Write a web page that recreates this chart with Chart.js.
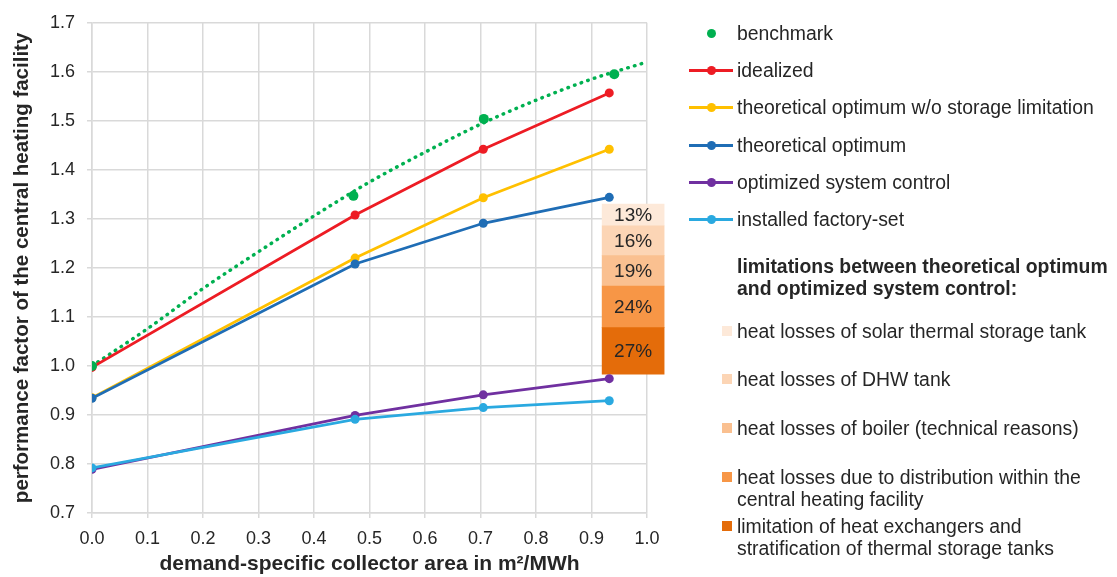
<!DOCTYPE html>
<html>
<head>
<meta charset="utf-8">
<script src="https://cdn.jsdelivr.net/npm/chart.js@4.4.1/dist/chart.umd.min.js"></script>
<style>
  html, body { margin: 0; padding: 0; background: #fff; }
  body { width: 1117px; height: 577px; position: relative; overflow: hidden;
         font-family: "Liberation Sans", Arial, sans-serif; color: #262626; }
  #chartBox { position: absolute; left: 0; top: 0; width: 680px; height: 577px; }
  #legend { position: absolute; left: 0; top: 0; width: 1117px; height: 577px; }
  .lg-text { position: absolute; left: 737px; font-size: 19.4px; line-height: 22.5px; white-space: nowrap; }
  .lg-head { font-weight: bold; }
  .lg-line { position: absolute; left: 689px; width: 44px; height: 3px; }
  .lg-dot { position: absolute; left: 707px; width: 9px; height: 9px; border-radius: 50%; }
  .lg-box { position: absolute; left: 722px; width: 10px; height: 10px; }
</style>
</head>
<body>
<div id="chartBox"><canvas id="pfChart"></canvas></div>
<div id="legend"></div>
<script>
// x positions (demand-specific collector area, m²/MWh)
const xSeries = [0, 0.474, 0.705, 0.932];
const xBenchmark = [0, 0.471, 0.706, 0.941];

const benchmark = [1.0, 1.347, 1.504, 1.595];
const idealized = [0.997, 1.308, 1.442, 1.557];
const theoNoStorage = [0.935, 1.220, 1.343, 1.442];
const theoOptimum = [0.934, 1.208, 1.291, 1.344];
const optimizedCtrl = [0.789, 0.899, 0.941, 0.974];
const factorySet = [0.792, 0.891, 0.915, 0.929];

// dotted benchmark trend
const trendX = [0, 0.1, 0.2, 0.3, 0.4, 0.5, 0.6, 0.7, 0.8, 0.9, 1.0];
const trendY = [1.0, 1.076, 1.158, 1.233, 1.306, 1.375, 1.436, 1.493, 1.542, 1.585, 1.62];

// stacked limitation bar (bottom to top)
const barX = 0.975;
const barBounds = [0.983, 1.078, 1.163, 1.225, 1.286, 1.330];
const barLabels = ['27%', '24%', '19%', '16%', '13%'];
const barNames = [
    'limitation of heat exchangers and\nstratification of thermal storage tanks',
    'heat losses due to distribution within the\ncentral heating facility',
    'heat losses of boiler (technical reasons)',
    'heat losses of DHW tank',
    'heat losses of solar thermal storage tank'
];

const yTicks = [0.7, 0.8, 0.9, 1.0, 1.1, 1.2, 1.3, 1.4, 1.5, 1.6, 1.7];
const xTicks = [0, 0.1, 0.2, 0.3, 0.4, 0.5, 0.6, 0.7, 0.8, 0.9, 1.0];

const FONT = '"Liberation Sans", Arial, sans-serif';
const TEXT = '#262626';
const GRID = '#d9d9d9';

const seriesStyle = [
    { name: 'idealized', data: idealized, color: '#ed1c24', order: 5 },
    { name: 'theoretical optimum w/o storage limitation', data: theoNoStorage, color: '#ffc000', order: 4 },
    { name: 'theoretical optimum', data: theoOptimum, color: '#1f6db5', order: 3 },
    { name: 'optimized system control', data: optimizedCtrl, color: '#7030a0', order: 2 },
    { name: 'installed factory-set', data: factorySet, color: '#2aa9e0', order: 1 }
];
const barColors = ['#e46c0a', '#f79646', '#fac090', '#fcd5b5', '#fde9d9'];

function toPoints(xs, ys) {
    return ys.map((y, i) => ({ x: xs[i], y: y }));
}

const datasets = [];

barLabels.forEach((lbl, i) => {
    datasets.push({
        type: 'bar',
        label: lbl,
        data: [{ x: barX, y: [barBounds[i], barBounds[i + 1]] }],
        backgroundColor: barColors[i],
        borderWidth: 0,
        barThickness: 62,
        grouped: false,
        clip: false,
        order: 10
    });
});

datasets.push({
    label: 'trend',
    data: toPoints(trendX, trendY),
    borderColor: '#00b050',
    borderWidth: 3.5,
    borderDash: [0.5, 6.5],
    borderCapStyle: 'round',
    cubicInterpolationMode: 'monotone',
    pointRadius: 0,
    order: 7
});

seriesStyle.forEach(s => {
    datasets.push({
        label: s.name,
        data: toPoints(xSeries, s.data),
        borderColor: s.color,
        backgroundColor: s.color,
        borderWidth: 2.75,
        pointRadius: 4.5,
        pointBorderWidth: 0,
        pointBackgroundColor: s.color,
        order: s.order
    });
});

datasets.push({
    label: 'benchmark',
    data: toPoints(xBenchmark, benchmark),
    showLine: false,
    pointRadius: 5,
    pointBorderWidth: 0,
    pointBackgroundColor: '#00b050',
    order: 0
});

const barLabelPlugin = {
    id: 'barLabels',
    afterDatasetsDraw(chart) {
        const ctx = chart.ctx;
        ctx.save();
        ctx.font = '19px ' + FONT;
        ctx.fillStyle = TEXT;
        ctx.textAlign = 'center';
        ctx.textBaseline = 'middle';
        chart.data.datasets.forEach((ds, i) => {
            if (ds.type !== 'bar') return;
            const bar = chart.getDatasetMeta(i).data[0];
            ctx.fillText(ds.label, bar.x, (bar.y + bar.base) / 2 + 1);
        });
        ctx.restore();
    }
};

new Chart(document.getElementById('pfChart'), {
    type: 'line',
    data: { datasets: datasets },
    plugins: [barLabelPlugin],
    options: {
        responsive: true,
        maintainAspectRatio: false,
        animation: false,
        layout: { padding: { left: 0, right: 33, top: 16, bottom: 0 } },
        plugins: { legend: { display: false }, tooltip: { enabled: false } },
        scales: {
            x: {
                type: 'linear',
                min: 0,
                max: 1,
                offset: false,
                afterBuildTicks(scale) { scale.ticks = xTicks.map(v => ({ value: v })); },
                afterFit(scale) { scale.height = 64; },
                ticks: {
                    callback: v => v.toFixed(1),
                    color: TEXT,
                    font: { family: FONT, size: 18 },
                    padding: 10,
                    maxRotation: 0,
                    autoSkip: false
                },
                grid: { color: GRID, lineWidth: 1.5, tickLength: 5, offset: false },
                border: { color: GRID, width: 1.5 },
                title: {
                    display: true,
                    text: 'demand-specific collector area in m²/MWh',
                    color: TEXT,
                    font: { family: FONT, size: 21, weight: 'bold' },
                    padding: { top: 0, bottom: 0 }
                }
            },
            y: {
                min: 0.7,
                max: 1.7,
                afterBuildTicks(scale) { scale.ticks = yTicks.map(v => ({ value: v })); },
                afterFit(scale) { scale.width = 92; },
                ticks: {
                    callback: v => v.toFixed(1),
                    color: TEXT,
                    font: { family: FONT, size: 18 },
                    padding: 12
                },
                grid: { color: GRID, lineWidth: 1.5, tickLength: 5 },
                border: { color: GRID, width: 1.5 },
                title: {
                    display: true,
                    text: 'performance factor of the central heating facility',
                    color: TEXT,
                    font: { family: FONT, size: 20.5, weight: 'bold' },
                    padding: { top: 10, bottom: 0 }
                }
            }
        }
    }
});

// legend on the right
const legend = document.getElementById('legend');
function addText(txt, cy, cls) {
    const lines = txt.split('\n');
    const d = document.createElement('div');
    d.className = 'lg-text' + (cls ? ' ' + cls : '');
    d.style.top = (cy - 11.25) + 'px';
    d.innerHTML = lines.join('<br>');
    legend.appendChild(d);
}
function addEl(cls, color, left, top) {
    const d = document.createElement('div');
    d.className = cls;
    d.style.background = color;
    if (left !== null) d.style.left = left + 'px';
    d.style.top = top + 'px';
    legend.appendChild(d);
}

const lineRows = [70, 107, 145, 182, 219];
addEl('lg-dot', '#00b050', 707, 33 - 4.5);
addText('benchmark', 33);
seriesStyle.forEach((s, i) => {
    const cy = lineRows[i];
    addEl('lg-line', s.color, null, cy - 1.5);
    addEl('lg-dot', s.color, null, cy - 4.5);
    addText(s.name, cy);
});

addText('limitations between theoretical optimum\nand optimized system control:', 266, 'lg-head');

const boxRows = [526, 477, 428, 379, 331];
barNames.forEach((n, i) => {
    const cy = boxRows[i];
    addEl('lg-box', barColors[i], null, cy - 5);
    addText(n, cy);
});
</script>
</body>
</html>
